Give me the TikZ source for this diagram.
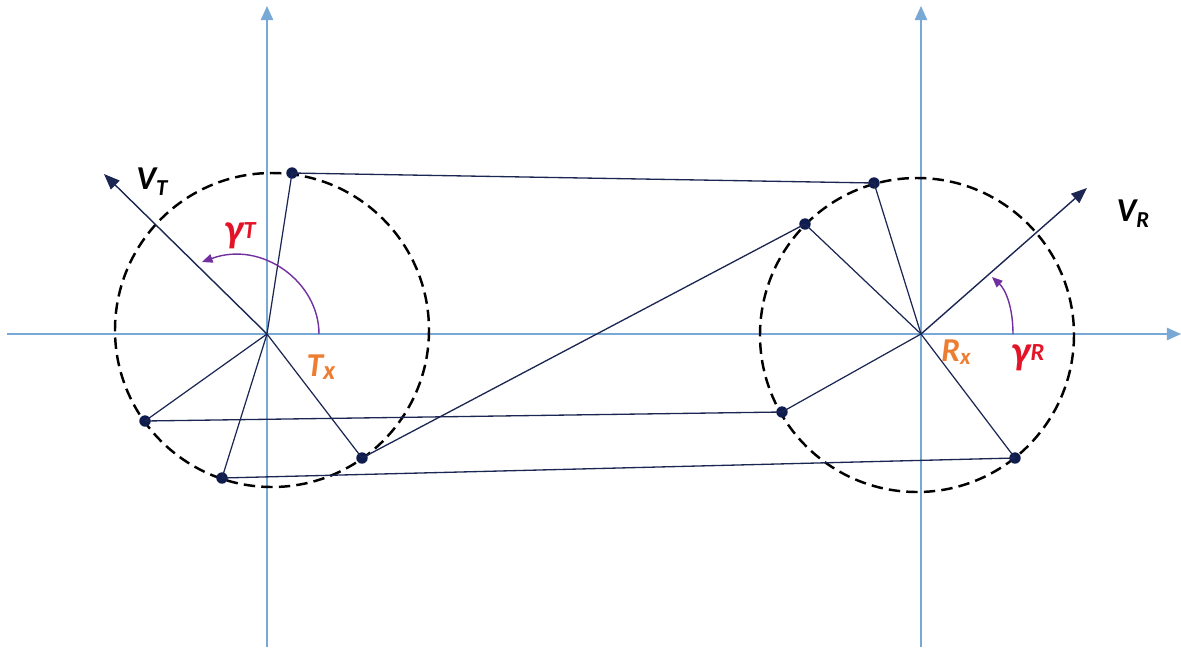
\documentclass[tikz,border=0pt]{standalone}
\usepackage{fontspec}
\setmainfont{Carlito}
\usetikzlibrary{arrows.meta,positioning,calc}

\definecolor{axisBlue}{RGB}{120,168,214}
\definecolor{navyLine}{RGB}{28,38,82}
\definecolor{dotNavy}{RGB}{14,28,78}
\definecolor{angleRed}{RGB}{228,20,40}
\definecolor{labelOrange}{RGB}{237,125,49}
\definecolor{arcPurple}{RGB}{112,48,160}

\begin{document}
\begin{tikzpicture}[
    x=0.02cm, y=-0.02cm,
    axisLine/.style={
        draw=axisBlue, line width=0.9pt,
        -{Triangle[length=8pt, width=7pt]}
    },
    rayLine/.style={draw=navyLine, line width=0.7pt},
    linkLine/.style={draw=navyLine, line width=0.75pt},
    velArrow/.style={
        draw=navyLine, line width=0.8pt,
        -{Triangle[length=9pt, width=7pt]}
    },
    angleArc/.style={
        draw=arcPurple, line width=0.8pt,
        -{Triangle[length=6pt, width=5pt]}
    },
    rangeCircle/.style={
        draw=black, line width=1.4pt, dash pattern=on 6.5pt off 3.5pt
    },
    dotNode/.style={
        circle, fill=dotNavy, inner sep=0pt, minimum size=6.5pt
    },
    velLabel/.style={font=\fontsize{19}{21}\selectfont\bfseries\itshape, text=black},
    gammaLabel/.style={font=\fontsize{23}{25}\selectfont\bfseries\itshape, text=angleRed},
    posLabel/.style={font=\fontsize{19}{21}\selectfont\bfseries\itshape, text=labelOrange}
]

\useasboundingbox (0,0) rectangle (1181,647);

% Axes
\coordinate (tx) at (267,334);
\coordinate (rx) at (921,334);
\coordinate (hStart) at (7,334);
\coordinate (hEnd) at (1181,334);
\coordinate (tTop) at (267,6);
\coordinate (tBot) at (267,647);
\coordinate (rTop) at (921,6);
\coordinate (rBot) at (921,647);

\draw[axisLine] (hStart) -- (hEnd);
\draw[axisLine] (tBot) -- (tTop);
\draw[axisLine] (rBot) -- (rTop);

% Circles
\draw[rangeCircle] (272,330) circle[radius=157];
\draw[rangeCircle] (917,335) circle[radius=157];

% Points on the circles
\node[dotNode] (tA) at (292,173) {};
\node[dotNode] (tB) at (145,421) {};
\node[dotNode] (tC) at (222,478) {};
\node[dotNode] (tD) at (362,458) {};

\node[dotNode] (rA) at (874,183) {};
\node[dotNode] (rB) at (805,224) {};
\node[dotNode] (rC) at (782,412) {};
\node[dotNode] (rD) at (1015,458) {};

% Rays from origins
\foreach \p in {tA,tB,tC,tD}
    \draw[rayLine] (tx) -- (\p.center);
\foreach \p in {rA,rB,rC,rD}
    \draw[rayLine] (rx) -- (\p.center);

% Links between the two circles
\draw[linkLine] (tA.center) -- (rA.center);
\draw[linkLine] (tD.center) -- (rB.center);
\draw[linkLine] (tB.center) -- (rC.center);
\draw[linkLine] (tC.center) -- (rD.center);

% Velocity vectors
\coordinate (vtTip) at (104,174);
\coordinate (vrTip) at (1087,188);
\draw[velArrow] (tx) -- (vtTip);
\draw[velArrow] (rx) -- (vrTip);

\node[velLabel] (vtLabel) at (152,182) {V\raisebox{-0.35ex}{\fontsize{13}{15}\selectfont T}};
\node[velLabel] (vrLabel) at (1133,214) {V\raisebox{-0.35ex}{\fontsize{13}{15}\selectfont R}};

% Angles
\coordinate (gtStart) at (319,334);
\coordinate (gtEnd) at (202,262);
\draw[angleArc] (gtStart) .. controls (319,282) and (262,240) .. (gtEnd);
\coordinate (grStart) at (1013,334);
\coordinate (grEnd) at (992,277);
\draw[angleArc] (grStart) .. controls (1013,308) and (1006,290) .. (grEnd);

\node[gammaLabel] (gtLabel) at (240,236) {γ\raisebox{0.2ex}{\fontsize{14}{16}\selectfont T}};
\node[gammaLabel] (grLabel) at (1028,358) {γ\raisebox{0.2ex}{\fontsize{14}{16}\selectfont R}};

% Origin labels
\node[posLabel] (txLabel) at (321,367) {T\raisebox{-0.15ex}{\fontsize{15}{17}\selectfont x}};
\node[posLabel] (rxLabel) at (956,352) {R\raisebox{-0.15ex}{\fontsize{13}{15}\selectfont x}};

\end{tikzpicture}
\end{document}
